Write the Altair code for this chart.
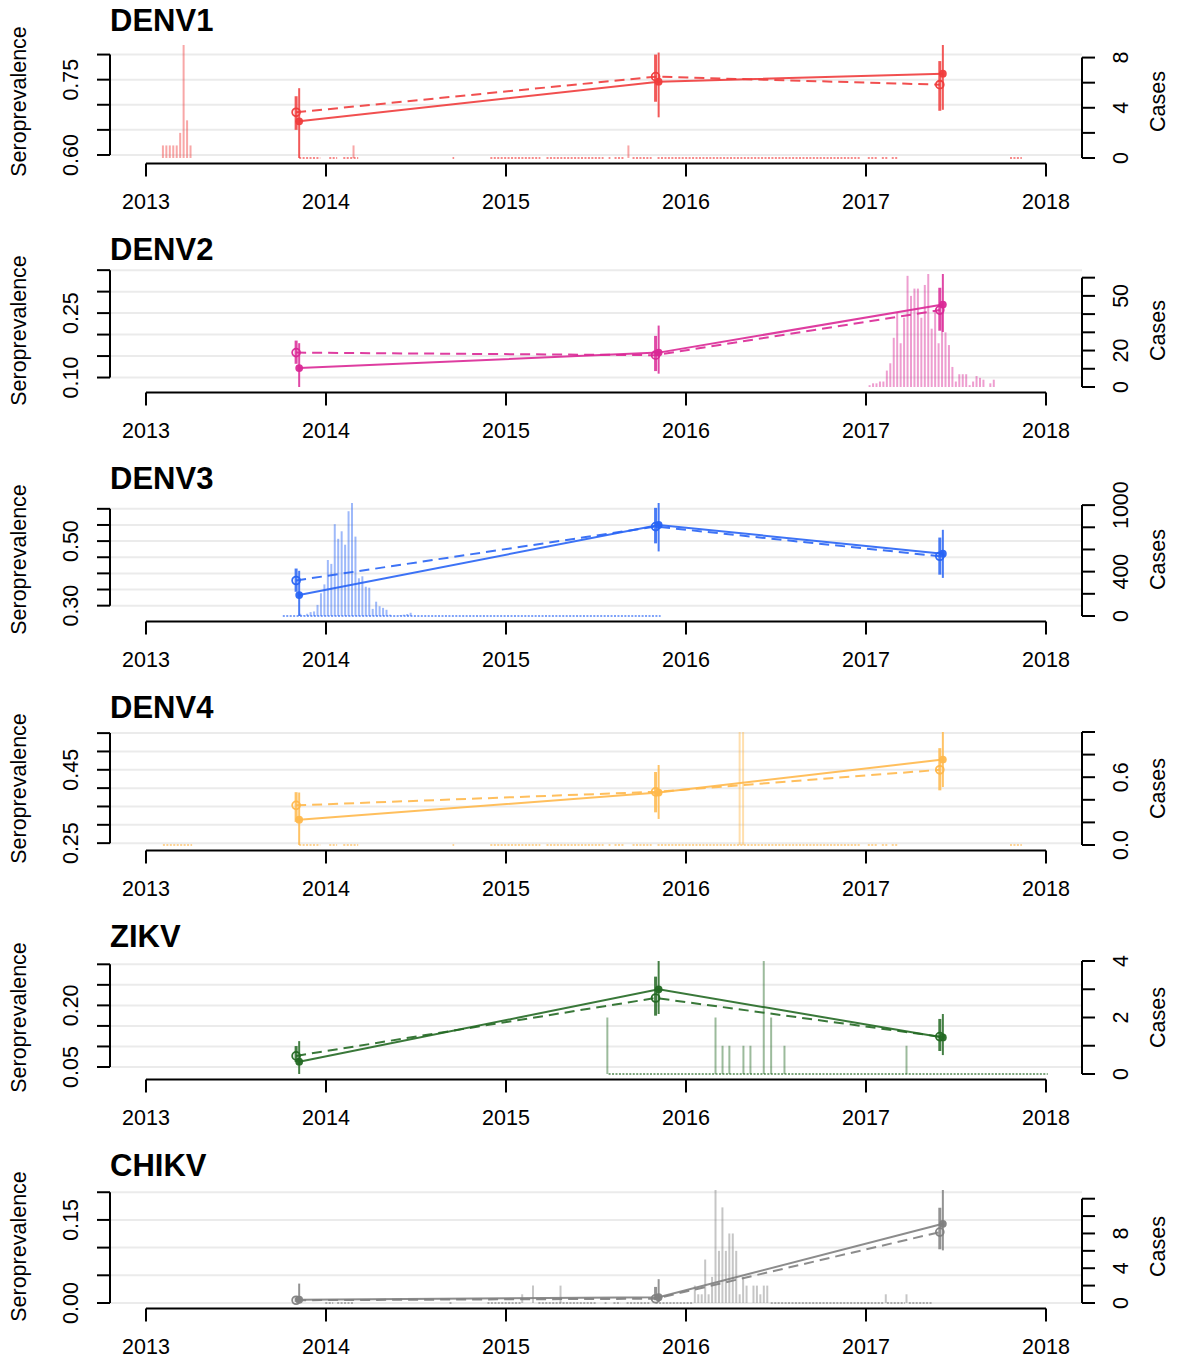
import altair as alt
import pandas as pd

# ---------------------------------------------------------------- data
PANELS = ["DENV1", "DENV2", "DENV3", "DENV4", "ZIKV", "CHIKV"]

COLORS = {
    "DENV1": "#F03C3C",
    "DENV2": "#DA2896",
    "DENV3": "#2864F5",
    "DENV4": "#FFB84B",
    "ZIKV": "#236923",
    "CHIKV": "#808080",
}

YEARS = [2013, 2014, 2015, 2016, 2017, 2018]
WEEK = 7 / 365.25

# survey rounds (decimal years); the dashed series sits a few days earlier
ROUNDS_SOLID = [2013.851, 2015.848, 2017.427]
ROUNDS_DASHED = [2013.834, 2015.831, 2017.410]

# seroprevalence estimates with interval bounds
SOLID_EST = {
    "DENV1": [0.667, 0.746, 0.762],
    "DENV2": [0.122, 0.158, 0.270],
    "DENV3": [0.333, 0.550, 0.461],
    "DENV4": [0.314, 0.388, 0.478],
    "ZIKV": [0.063, 0.239, 0.122],
    "CHIKV": [0.006, 0.0105, 0.143],
}
SOLID_LO = {
    "DENV1": [0.594, 0.675, 0.690],
    "DENV2": [0.078, 0.109, 0.206],
    "DENV3": [0.268, 0.468, 0.386],
    "DENV4": [0.245, 0.316, 0.403],
    "ZIKV": [0.033, 0.179, 0.079],
    "CHIKV": [0.000, 0.002, 0.095],
}
SOLID_HI = {
    "DENV1": [0.733, 0.804, 0.819],
    "DENV2": [0.180, 0.221, 0.341],
    "DENV3": [0.408, 0.618, 0.535],
    "DENV4": [0.388, 0.463, 0.553],
    "ZIKV": [0.113, 0.308, 0.179],
    "CHIKV": [0.035, 0.043, 0.204],
}
DASHED_EST = {
    "DENV1": [0.685, 0.756, 0.740],
    "DENV2": [0.158, 0.152, 0.257],
    "DENV3": [0.378, 0.545, 0.453],
    "DENV4": [0.353, 0.390, 0.450],
    "ZIKV": [0.077, 0.218, 0.124],
    "CHIKV": [0.005, 0.0077, 0.128],
}
DASHED_LO = {
    "DENV1": [0.650, 0.706, 0.688],
    "DENV2": [0.132, 0.115, 0.209],
    "DENV3": [0.343, 0.493, 0.396],
    "DENV4": [0.308, 0.334, 0.394],
    "ZIKV": [0.062, 0.175, 0.089],
    "CHIKV": [0.002, 0.005, 0.097],
}
DASHED_HI = {
    "DENV1": [0.717, 0.800, 0.787],
    "DENV2": [0.186, 0.197, 0.309],
    "DENV3": [0.415, 0.603, 0.511],
    "DENV4": [0.389, 0.444, 0.509],
    "ZIKV": [0.101, 0.270, 0.167],
    "CHIKV": [0.010, 0.029, 0.172],
}

# left (seroprevalence) axis
SERO_TICKS = {
    "DENV1": [0.60, 0.65, 0.70, 0.75, 0.80],
    "DENV2": [0.10, 0.15, 0.20, 0.25, 0.30, 0.35],
    "DENV3": [0.30, 0.35, 0.40, 0.45, 0.50, 0.55, 0.60],
    "DENV4": [0.25, 0.30, 0.35, 0.40, 0.45, 0.50, 0.55],
    "ZIKV": [0.05, 0.10, 0.15, 0.20, 0.25, 0.30],
    "CHIKV": [0.00, 0.05, 0.10, 0.15, 0.20],
}
SERO_LABELS = {
    "DENV1": ["0.60", "0.75"],
    "DENV2": ["0.10", "0.25"],
    "DENV3": ["0.30", "0.50"],
    "DENV4": ["0.25", "0.45"],
    "ZIKV": ["0.05", "0.20"],
    "CHIKV": ["0.00", "0.15"],
}

# right (weekly cases) axis
CASE_TICKS = {
    "DENV1": [0, 2, 4, 6, 8],
    "DENV2": [0, 10, 20, 30, 40, 50, 60],
    "DENV3": [0, 200, 400, 600, 800, 1000],
    "DENV4": [0.0, 0.2, 0.4, 0.6, 0.8, 1.0],
    "ZIKV": [0, 1, 2, 3, 4],
    "CHIKV": [0, 2, 4, 6, 8, 10, 12],
}
CASE_LABELS = {
    "DENV1": ["0", "4", "8"],
    "DENV2": ["0", "20", "50"],
    "DENV3": ["0", "400", "1000"],
    "DENV4": ["0.0", "0.6"],
    "ZIKV": ["0", "2", "4"],
    "CHIKV": ["0", "4", "8"],
}

# weekly case counts: (first week, consecutive weekly counts)
CASE_RUNS = {
    "DENV1": [(2013.094, [1, 1, 1, 1, 1, 2, 9, 3, 1]), (2014.153, [1]), (2015.680, [1])],
    "DENV2": [(2017.020, [1, 2, 2, 3, 3, 9, 13, 27, 41, 24, 38, 61, 50, 54, 54, 38, 56, 62,
                          32, 42, 24, 41, 30, 23, 11, 3, 7, 7, 7, 1, 3, 6, 5, 4, 0, 2, 4])],
    "DENV3": [(2013.857, [20, 6, 20, 35, 41, 100, 205, 285, 505, 470, 828, 696, 764, 643,
                          945, 1019, 716, 340, 358, 264, 255, 64, 129, 88, 73, 56, 12, 0, 0,
                          6, 12, 18, 29])],
    "DENV4": [(2016.298, [1, 1])],
    "ZIKV": [(2015.563, [2]), (2016.164, [2]), (2016.203, [1]), (2016.241, [1]),
             (2016.319, [1]), (2016.358, [1]), (2016.432, [4]), (2016.473, [2]),
             (2016.547, [1]), (2017.225, [1])],
    "CHIKV": [(2015.090, [1]), (2015.150, [2]), (2015.303, [2]),
              (2016.049, [2, 1, 1, 5, 1, 3, 13, 6, 11, 6, 8, 8, 6, 1, 3, 2, 0, 2, 2, 1, 2, 2]),
              (2017.110, [1]), (2017.225, [1])],
}

# stretches of weeks reported with zero cases: (from, to)
ZERO_RUNS = {
    "DENV1": [(2013.851, 2013.968), (2014.018, 2014.062), (2014.096, 2014.179),
              (2014.703, 2014.712), (2014.913, 2015.191), (2015.225, 2015.542),
              (2015.570, 2015.580), (2015.603, 2015.658), (2015.703, 2015.809),
              (2015.842, 2016.966), (2017.010, 2017.066), (2017.088, 2017.121),
              (2017.143, 2017.177), (2017.800, 2017.866)],
    "DENV2": [],
    "DENV3": [(2013.760, 2015.859)],
    "DENV4": [(2013.094, 2013.256), (2013.851, 2013.968), (2014.018, 2014.062),
              (2014.096, 2014.179), (2014.703, 2014.712), (2014.913, 2015.191),
              (2015.225, 2015.542), (2015.570, 2015.580), (2015.603, 2015.658),
              (2015.703, 2015.809), (2015.842, 2016.966), (2017.010, 2017.066),
              (2017.088, 2017.121), (2017.143, 2017.177), (2017.800, 2017.866)],
    "ZIKV": [(2015.570, 2018.010)],
    "CHIKV": [(2013.996, 2014.040), (2014.062, 2014.157), (2014.686, 2014.697),
              (2014.897, 2015.086), (2015.180, 2015.503), (2015.548, 2015.558),
              (2015.597, 2015.636), (2015.670, 2015.798), (2015.831, 2016.042),
              (2016.471, 2017.099), (2017.116, 2017.216), (2017.238, 2017.372)],
}

# ---------------------------------------------------------------- layout
W, H = 972, 122        # plot area of one panel
GAP = 107              # vertical gap between plot areas
TICK = 13
FONT = "Liberation Sans"
FS = 21.5
AXIS_COLOR = "black"
GRID_COLOR = "#EBEBEB"


def padded(lo, hi):
    d = 0.04 * (hi - lo)
    return [lo - d, hi + d]


X_SCALE = alt.Scale(domain=padded(YEARS[0], YEARS[-1]), nice=False, zero=False)


def xq(field):
    return alt.X(field, type="quantitative", scale=X_SCALE, axis=None)


def panel(name):
    color = COLORS[name]
    sero_scale = alt.Scale(
        domain=padded(min(SOLID_LO[name] + DASHED_LO[name]),
                      max(SOLID_HI[name] + DASHED_HI[name])),
        nice=False, zero=False)
    case_max = max(max(c) for _, c in CASE_RUNS[name])
    case_scale = alt.Scale(domain=padded(0, case_max), nice=False, zero=False)

    def ys(field):
        return alt.Y(field, type="quantitative", scale=sero_scale, axis=None)

    def yc(field):
        return alt.Y(field, type="quantitative", scale=case_scale, axis=None)

    layers = []

    # horizontal grid at the seroprevalence ticks
    sero_ticks = pd.DataFrame({"v": SERO_TICKS[name]})
    layers.append(alt.Chart(sero_ticks).mark_rule(color=GRID_COLOR, strokeWidth=2).encode(
        y=ys("v"), x=alt.value(0), x2=alt.value(W)))

    # weeks with zero reported cases
    if ZERO_RUNS[name]:
        zr = pd.DataFrame([{"s": s, "e": e, "z": 0} for s, e in ZERO_RUNS[name]])
        layers.append(alt.Chart(zr).mark_rule(
            color=color, opacity=0.6, strokeWidth=2, strokeDash=[2, 1.45]).encode(
            x=xq("s"), x2="e:Q", y=yc("z")))

    # weekly case bars
    rows = []
    for start, counts in CASE_RUNS[name]:
        for i, c in enumerate(counts):
            if c > 0:
                rows.append({"yr": start + i * WEEK, "c": c, "b": 0})
    layers.append(alt.Chart(pd.DataFrame(rows)).mark_rule(
        color=color, opacity=0.45, strokeWidth=2).encode(
        x=xq("yr"), y=yc("c"), y2="b:Q"))

    # left axis
    st = SERO_TICKS[name]
    layers.append(alt.Chart(pd.DataFrame({"a": [st[0]], "b": [st[-1]]})).mark_rule(
        color=AXIS_COLOR, strokeWidth=2).encode(y=ys("a"), y2="b:Q", x=alt.value(0)))
    layers.append(alt.Chart(sero_ticks).mark_rule(color=AXIS_COLOR, strokeWidth=2).encode(
        y=ys("v"), x=alt.value(-TICK), x2=alt.value(0)))
    sl = pd.DataFrame({"v": [float(t) for t in SERO_LABELS[name]], "t": SERO_LABELS[name]})
    layers.append(alt.Chart(sl).mark_text(
        angle=270, font=FONT, fontSize=FS, color="black", align="center", baseline="middle").encode(
        y=ys("v"), x=alt.value(-38), text="t:N"))

    # right axis
    ct = pd.DataFrame({"v": CASE_TICKS[name]})
    layers.append(alt.Chart(pd.DataFrame({"a": [CASE_TICKS[name][0]], "b": [CASE_TICKS[name][-1]]}))
                  .mark_rule(color=AXIS_COLOR, strokeWidth=2).encode(
        y=yc("a"), y2="b:Q", x=alt.value(W)))
    layers.append(alt.Chart(ct).mark_rule(color=AXIS_COLOR, strokeWidth=2).encode(
        y=yc("v"), x=alt.value(W), x2=alt.value(W + TICK)))
    cl = pd.DataFrame({"v": [float(t) for t in CASE_LABELS[name]], "t": CASE_LABELS[name]})
    layers.append(alt.Chart(cl).mark_text(
        angle=270, font=FONT, fontSize=FS, color="black", align="center", baseline="middle").encode(
        y=yc("v"), x=alt.value(W + 40), text="t:N"))

    # bottom axis
    yrs = pd.DataFrame({"yr": YEARS, "t": [str(y) for y in YEARS]})
    layers.append(alt.Chart(pd.DataFrame({"a": [YEARS[0]], "b": [YEARS[-1]]})).mark_rule(
        color=AXIS_COLOR, strokeWidth=2).encode(x=xq("a"), x2="b:Q", y=alt.value(H + 1)))
    layers.append(alt.Chart(yrs).mark_rule(color=AXIS_COLOR, strokeWidth=2).encode(
        x=xq("yr"), y=alt.value(H + 1), y2=alt.value(H + 1 + TICK)))
    layers.append(alt.Chart(yrs).mark_text(
        font=FONT, fontSize=FS, color="black", align="center", baseline="middle").encode(
        x=xq("yr"), y=alt.value(H + 40), text="t:N"))

    # seroprevalence estimates
    solid = pd.DataFrame({"yr": ROUNDS_SOLID, "est": SOLID_EST[name],
                          "lo": SOLID_LO[name], "hi": SOLID_HI[name]})
    dashed = pd.DataFrame({"yr": ROUNDS_DASHED, "est": DASHED_EST[name],
                           "lo": DASHED_LO[name], "hi": DASHED_HI[name]})
    layers.append(alt.Chart(dashed).mark_rule(color=color, strokeWidth=3, opacity=0.85).encode(
        x=xq("yr"), y=ys("lo"), y2="hi:Q"))
    layers.append(alt.Chart(solid).mark_rule(color=color, strokeWidth=2, opacity=0.85).encode(
        x=xq("yr"), y=ys("lo"), y2="hi:Q"))
    layers.append(alt.Chart(solid).mark_line(color=color, strokeWidth=2, opacity=0.9).encode(
        x=xq("yr"), y=ys("est")))
    layers.append(alt.Chart(dashed).mark_line(
        color=color, strokeWidth=2, opacity=0.9, strokeDash=[10, 6]).encode(
        x=xq("yr"), y=ys("est")))
    layers.append(alt.Chart(solid).mark_circle(color=color, size=60, opacity=0.95).encode(
        x=xq("yr"), y=ys("est")))
    layers.append(alt.Chart(dashed).mark_point(
        shape="circle", filled=False, color=color, size=62, strokeWidth=1.8, opacity=0.95).encode(
        x=xq("yr"), y=ys("est")))

    # panel title and axis titles
    layers.append(alt.Chart(pd.DataFrame({"t": [name]})).mark_text(
        font=FONT, fontSize=31, fontWeight="bold", color="black",
        align="left", baseline="alphabetic").encode(
        text="t:N", x=alt.value(0), y=alt.value(-10)))
    layers.append(alt.Chart(pd.DataFrame({"t": ["Seroprevalence"]})).mark_text(
        angle=270, font=FONT, fontSize=FS, color="black", align="center", baseline="middle").encode(
        text="t:N", x=alt.value(-90), y=alt.value(H / 2)))
    layers.append(alt.Chart(pd.DataFrame({"t": ["Cases"]})).mark_text(
        angle=270, font=FONT, fontSize=FS, color="black", align="center", baseline="middle").encode(
        text="t:N", x=alt.value(W + 77), y=alt.value(H / 2)))

    return alt.layer(*layers).resolve_scale(y="independent").properties(width=W, height=H)


chart = alt.vconcat(*[panel(n) for n in PANELS], spacing=GAP, bounds="flush").properties(
    padding={"left": 9, "top": 5.5, "right": 0, "bottom": 0},
    background="white",
).configure_view(strokeWidth=0)

chart.save("out.html", embed_options={"renderer": "svg", "actions": False})
